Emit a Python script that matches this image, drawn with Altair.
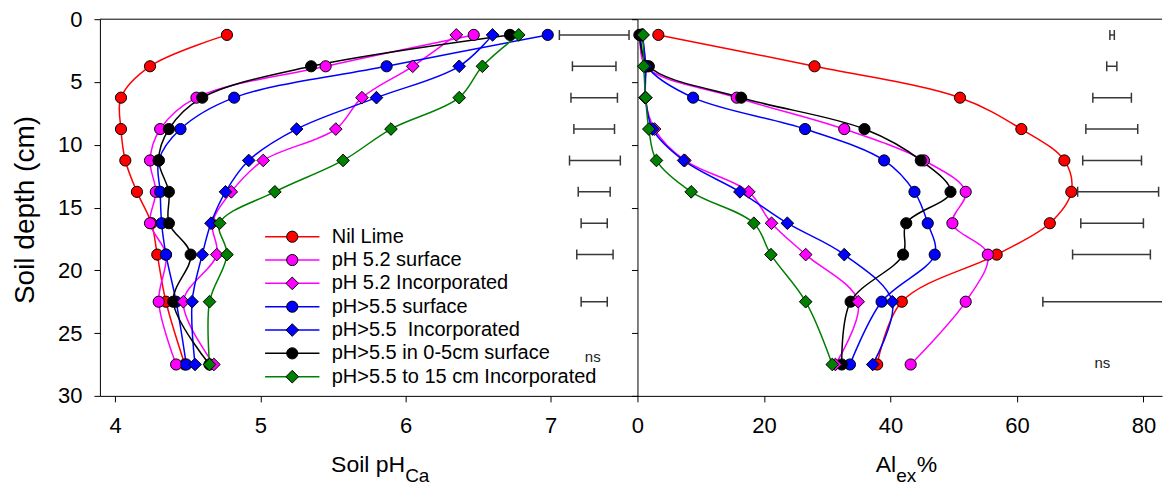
import altair as alt
import pandas as pd

FONT = "Liberation Sans"

# ---------------- data ----------------
depths = [1.25, 3.75, 6.25, 8.75, 11.25, 13.75, 16.25, 18.75, 22.5, 27.5]
series = ["Nil Lime", "pH 5.2 surface", "pH 5.2 Incorporated", "pH>5.5 surface",
          "pH>5.5\u00a0 Incorporated", "pH>5.5 in 0-5cm surface", "pH>5.5 to 15 cm Incorporated"]
colors = ["#ff0000", "#ff00ff", "#ff00ff", "#0000ff", "#0000ff", "#000000", "#008000"]
shapes = ["circle", "circle", "diamond", "circle", "diamond", "circle", "diamond"]

ph_nil = [4.77, 4.24, 4.04, 4.04, 4.07, 4.15, 4.25, 4.29, 4.35, 4.48]
ph_52s = [6.47, 5.45, 4.56, 4.31, 4.24, 4.28, 4.24, 4.35, 4.30, 4.42]
ph_52i = [6.35, 6.05, 5.70, 5.52, 5.02, 4.80, 4.67, 4.70, 4.47, 4.68]
ph_55s = [6.98, 5.87, 4.82, 4.45, 4.30, 4.31, 4.32, 4.35, 4.42, 4.49]
ph_55i = [6.60, 6.37, 5.80, 5.25, 4.92, 4.76, 4.66, 4.60, 4.53, 4.55]
ph_05 = [6.72, 5.35, 4.60, 4.37, 4.30, 4.37, 4.37, 4.52, 4.40, 4.65]
ph_15 = [6.78, 6.53, 6.37, 5.90, 5.57, 5.10, 4.72, 4.77, 4.65, 4.65]

al_nil = [3.3, 28.0, 51.0, 60.7, 67.5, 68.6, 65.2, 56.8, 41.8, 37.9]
al_52s = [0.5, 1.3, 15.7, 32.7, 45.3, 51.9, 49.8, 55.4, 51.9, 43.2]
al_52i = [0.7, 1.3, 1.2, 2.7, 7.5, 17.6, 21.2, 26.6, 34.9, 31.3]
al_55s = [0.5, 1.5, 8.8, 26.5, 39.0, 43.8, 45.9, 47.0, 38.6, 33.6]
al_55i = [0.8, 1.3, 1.3, 2.4, 7.3, 16.2, 23.7, 32.7, 40.3, 37.2]
al_05 = [0.3, 1.8, 16.4, 35.9, 44.8, 49.5, 42.5, 42.0, 33.7, 32.3]
al_15 = [0.9, 1.0, 1.3, 1.8, 3.0, 8.5, 18.4, 21.1, 26.6, 30.8]

eb_depths = [1.25, 3.75, 6.25, 8.75, 11.25, 13.75, 16.25, 18.75, 22.5]
eb_ph_lo = [7.06, 7.15, 7.14, 7.16, 7.13, 7.19, 7.21, 7.18, 7.21]
eb_ph_hi = [7.54, 7.45, 7.46, 7.44, 7.48, 7.41, 7.39, 7.43, 7.39]
eb_al_lo = [74.7, 74.2, 72.0, 70.9, 70.4, 69.6, 70.1, 68.8, 64.1]
eb_al_hi = [75.4, 75.8, 78.1, 79.1, 79.7, 82.4, 80.0, 81.1, 84.0]

ns_ph = {"x": [7.29], "depth": [27.3], "t": ["ns"]}
ns_al = {"x": [73.5], "depth": [27.8], "t": ["ns"]}

ph_ticks = [4, 5, 6, 7]
al_ticks = [0, 20, 40, 60, 80]
depth_ticks = [0, 5, 10, 15, 20, 25, 30]

# ---------------- tables ----------------
ph_all = [ph_nil, ph_52s, ph_52i, ph_55s, ph_55i, ph_05, ph_15]
al_all = [al_nil, al_52s, al_52i, al_55s, al_55i, al_05, al_15]
rows = []
for s, shp, pv, av in zip(series, shapes, ph_all, al_all):
    for d, p, a in zip(depths, pv, av):
        rows.append({"series": s, "shape": shp, "depth": d, "ph": p, "al": a})
df = pd.DataFrame(rows)

eb_ph = pd.DataFrame({"depth": eb_depths, "lo": eb_ph_lo, "hi": eb_ph_hi})
eb_al = pd.DataFrame({"depth": eb_depths, "lo": eb_al_lo, "hi": eb_al_hi})

W1, W2, H = 538, 525, 377
color_scale = alt.Scale(domain=series, range=colors)
y_scale = alt.Scale(domain=[0, 30], reverse=True, nice=False, zero=False)
one = pd.DataFrame({"k": [0]})


def panel(field, xdomain, xticks, width, eb_df, ns, show_ylabels, extra):
    xs = alt.Scale(domain=xdomain, nice=False, zero=False)
    xax = alt.Axis(values=xticks, title=None, format="d")
    yax = alt.Axis(values=depth_ticks, title=None, labels=show_ylabels, format="d")

    lines = alt.Chart(df).mark_line(interpolate="catmull-rom", strokeWidth=1.5, clip=True).encode(
        x=alt.X(f"{field}:Q", scale=xs, axis=xax),
        y=alt.Y("depth:Q", scale=y_scale, axis=yax),
        color=alt.Color("series:N", scale=color_scale, legend=None),
        detail="series:N",
        order=alt.Order("depth:Q"),
    )
    layers = [lines]
    for shp, size in [("circle", 125), ("diamond", 160)]:
        layers.append(
            alt.Chart(df).transform_filter(alt.datum.shape == shp)
            .mark_point(shape=shp, size=size, filled=True, opacity=1, stroke="black", strokeWidth=1)
            .encode(
                x=alt.X(f"{field}:Q", scale=xs),
                y=alt.Y("depth:Q", scale=y_scale),
                fill=alt.Fill("series:N", scale=color_scale, legend=None),
            )
        )
    ebc = "#383838"
    layers.append(
        alt.Chart(eb_df).mark_rule(color=ebc, strokeWidth=1.5, clip=True).encode(
            x=alt.X("lo:Q", scale=xs), x2="hi:Q", y=alt.Y("depth:Q", scale=y_scale))
    )
    for col in ["lo", "hi"]:
        layers.append(
            alt.Chart(eb_df).mark_point(shape="M0,-1L0,1", size=100, filled=False, opacity=1,
                                        stroke=ebc, strokeWidth=1.5, clip=True).encode(
                x=alt.X(f"{col}:Q", scale=xs), y=alt.Y("depth:Q", scale=y_scale))
        )
    layers.append(
        alt.Chart(pd.DataFrame(ns)).mark_text(font=FONT, fontSize=15, color="#222222",
                                              align="center", baseline="alphabetic").encode(
            x=alt.X("x:Q", scale=xs), y=alt.Y("depth:Q", scale=y_scale), text="t:N")
    )
    # top frame line
    layers.append(
        alt.Chart(one).mark_rule(color="black", strokeWidth=1).encode(
            x=alt.value(0), x2=alt.value(width), y=alt.value(0))
    )
    layers += extra
    return alt.layer(*layers).properties(width=width, height=H)


def txt(t, x, y, size, align="left", angle=0):
    return alt.Chart(one).mark_text(text=t, font=FONT, fontSize=size, align=align,
                                    baseline="alphabetic", color="black", angle=angle).encode(
        x=alt.value(x), y=alt.value(y))


# legend (left panel)
legend_layers = []
for i, (s, c, shp) in enumerate(zip(series, colors, shapes)):
    yy = 217.7 + 23.35 * i
    legend_layers.append(alt.Chart(one).mark_rule(color=c, strokeWidth=1.5).encode(
        x=alt.value(165.3), x2=alt.value(219.7), y=alt.value(yy)))
    legend_layers.append(alt.Chart(one).mark_point(
        shape=shp, size=125 if shp == "circle" else 160, filled=True, opacity=1,
        fill=c, stroke="black", strokeWidth=1).encode(x=alt.value(192.5), y=alt.value(yy)))
    legend_layers.append(alt.Chart(one).mark_text(
        text=s, font=FONT, fontSize=20, align="left", baseline="middle", color="black").encode(
        x=alt.value(232), y=alt.value(yy)))

left_extra = legend_layers + [
    txt("Soil pH", 305.5, 453, 23, align="right"),
    txt("Ca", 305.5, 463, 19),
    txt("Soil depth (cm)", -66, 191, 28, align="center", angle=270),
]
right_extra = [
    txt("Al", 259, 453, 23, align="right"),
    txt("ex", 259, 463, 19),
    txt("%", 279.5, 453, 23),
]

left = panel("ph", [3.895, 7.598], ph_ticks, W1, eb_ph, ns_ph, True, left_extra)
right = panel("al", [0, W2 / 6.33], al_ticks, W2, eb_al, ns_al, False, right_extra)

chart = (
    alt.hconcat(left, right, spacing=0, bounds="flush")
    .resolve_scale(x="independent", y="independent")
    .properties(padding={"left": 4, "top": 0, "right": 0, "bottom": 0})
    .configure_view(stroke=None)
    .configure_axis(labelFont=FONT, labelFontSize=22, labelColor="black", domainColor="black",
                    tickColor="black", tickSize=6, grid=False, domainWidth=1, tickWidth=1,
                    labelFlush=False, labelOverlap=False)
    .configure_axisX(labelPadding=14)
    .configure_axisY(labelPadding=12)
)

chart.save("out.html", embed_options={"renderer": "svg", "actions": False})
